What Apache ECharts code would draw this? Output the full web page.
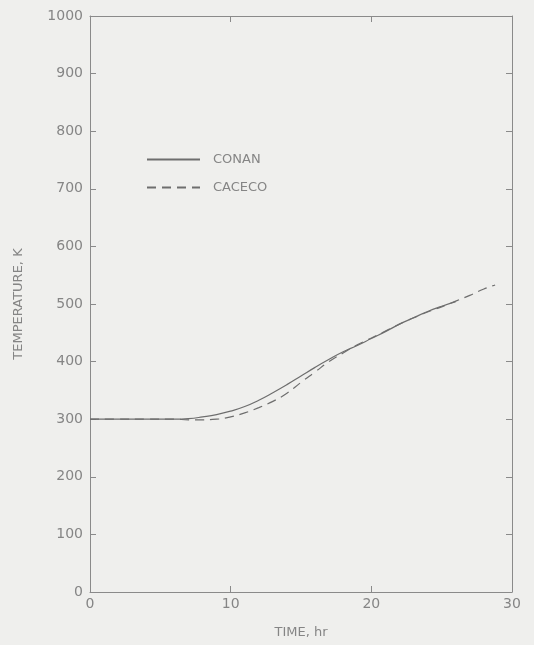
<!DOCTYPE html>
<html>
<head>
<meta charset="utf-8">
<script src="https://cdn.jsdelivr.net/npm/echarts@6/dist/echarts.min.js"></script>
<style>
html,body{margin:0;padding:0;background:#efefed;}
#c{width:534px;height:645px;}
</style>
</head>
<body>
<div id="c"></div>
<script>
var conanTime = [0, 2, 4, 6, 7, 8, 9, 10, 11, 12, 13, 14, 15, 16, 17, 18, 19, 20, 21, 22, 23, 24, 25, 26];
var conanTemp = [300, 300, 300, 300, 301, 304, 308, 314, 322, 333, 346, 360, 375, 390, 404, 417, 428, 440, 452, 465, 476, 487, 496, 504];
var cacecoTime = [0, 2, 4, 6, 7, 8, 9, 10, 11, 12, 13, 14, 15, 16, 17, 18, 19, 20, 21, 22, 23, 24, 25, 26, 27, 28, 28.8];
var cacecoTemp = [300, 300, 300, 300, 299, 299, 300, 304, 311, 320, 331, 345, 364, 382, 400, 415, 429, 441, 453, 465, 476, 486, 495, 505, 515, 526, 533];
var xTicks = [0, 10, 20, 30];
var yTicks = [0, 100, 200, 300, 400, 500, 600, 700, 800, 900, 1000];

function pairs(xs, ys) { return xs.map(function (x, i) { return [x, ys[i]]; }); }

var txt = '#858585';
var ax = '#8a8a8a';
var font = 'DejaVu Sans';

function frameAxis(extra) {
  var base = {
    axisLine: { show: true, onZero: false, lineStyle: { color: ax, width: 1 } },
    axisTick: { show: true, inside: true, length: 6, lineStyle: { color: ax } },
    splitLine: { show: false }
  };
  for (var k in extra) base[k] = extra[k];
  return base;
}

var chart = echarts.init(document.getElementById('c'));
chart.setOption({
  backgroundColor: '#efefed',
  animation: false,
  grid: { left: 90, right: 22, top: 16, bottom: 53 },
  legend: {
    orient: 'vertical',
    left: 141, top: 148,
    itemWidth: 53, itemHeight: 14, itemGap: 15,
    itemStyle: { opacity: 0 },
    textStyle: { color: txt, fontSize: 13, fontFamily: font, padding: [0, 0, 0, 8] },
    data: ['CONAN', 'CACECO']
  },
  xAxis: [frameAxis({
    type: 'value', min: 0, max: 30, interval: 10,
    name: 'TIME, hr', nameLocation: 'middle', nameGap: 34,
    nameTextStyle: { color: txt, fontSize: 13, fontFamily: font },
    axisLabel: { color: txt, fontSize: 14, fontFamily: font, margin: 5,
      formatter: function (v) { return xTicks.indexOf(v) >= 0 ? String(v) : ''; } }
  }), frameAxis({
    type: 'value', min: 0, max: 30, interval: 10, position: 'top',
    axisLabel: { show: false }
  })],
  yAxis: [frameAxis({
    type: 'value', min: 0, max: 1000, interval: 100,
    name: 'TEMPERATURE, K', nameLocation: 'middle', nameGap: 65,
    nameTextStyle: { color: txt, fontSize: 13, fontFamily: font },
    axisLabel: { color: txt, fontSize: 14, fontFamily: font, margin: 7,
      formatter: function (v) { return yTicks.indexOf(v) >= 0 ? String(v) : ''; } }
  }), frameAxis({
    type: 'value', min: 0, max: 1000, interval: 100, position: 'right',
    axisLabel: { show: false }
  })],
  series: [{
    name: 'CONAN', type: 'line', smooth: true, symbol: 'none',
    xAxisIndex: 0, yAxisIndex: 0,
    lineStyle: { color: '#6e6e6e', width: 1.2, type: 'solid' },
    itemStyle: { color: '#6e6e6e' },
    data: pairs(conanTime, conanTemp)
  }, {
    name: 'CACECO', type: 'line', smooth: true, symbol: 'none',
    xAxisIndex: 0, yAxisIndex: 0,
    lineStyle: { color: '#6e6e6e', width: 1.2, type: [9, 6] },
    itemStyle: { color: '#6e6e6e' },
    data: pairs(cacecoTime, cacecoTemp)
  }]
});
</script>
</body>
</html>
